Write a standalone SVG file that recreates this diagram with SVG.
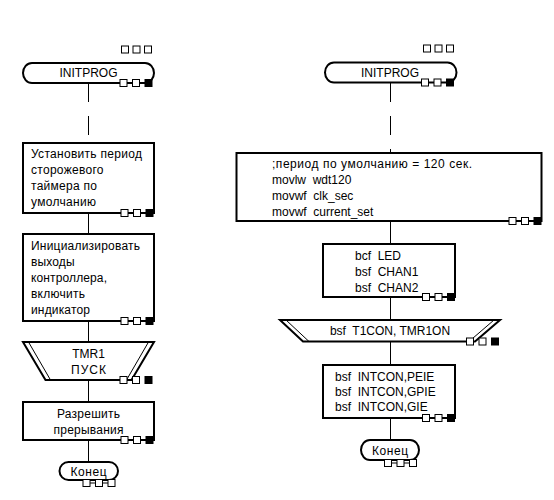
<svg xmlns="http://www.w3.org/2000/svg" xmlns:xlink="http://www.w3.org/1999/xlink" width="554" height="500" viewBox="0 0 554 500">
<style>
.bx{fill:#fff;stroke:#000;stroke-width:2}
.tr{fill:#fff;stroke:#000;stroke-width:2;stroke-linejoin:miter}
.ln{stroke:#000;stroke-width:1;fill:none}
.dl{stroke:#000;stroke-width:1;fill:none;stroke-dasharray:19 14}
.o{fill:#fff;stroke:#000;stroke-width:1}
.f{fill:#000;stroke:#000;stroke-width:1}
text{font-family:"Liberation Sans",Arial,sans-serif;font-size:12px;fill:#000;white-space:pre}
.c{text-anchor:middle}
</style>
<defs>
<g id="sqEnd">
<rect class="o" x="-32" y="-3.5" width="7" height="7"/>
<rect class="o" x="-19.5" y="-3.5" width="7" height="7"/>
<rect class="f" x="-7" y="-3.5" width="7" height="7"/>
</g>
<g id="sqTop">
<rect class="o" x="-30" y="0" width="7" height="7"/>
<rect class="o" x="-18.5" y="0" width="7" height="7"/>
<rect class="o" x="-7" y="0" width="7" height="7"/>
</g>
<g id="sqStop">
<line class="ln" x1="-25" y1="3.5" x2="-19.5" y2="3.5"/>
<line class="ln" x1="-12.5" y1="3.5" x2="-7" y2="3.5"/>
<rect class="o" x="-32" y="0" width="7" height="7"/>
<rect class="o" x="-19.5" y="0" width="7" height="7"/>
<rect class="o" x="-7" y="0" width="7" height="7"/>
</g>
</defs>
<rect width="554" height="500" fill="#fff"/>

<g id="connectors">
<line class="dl" x1="88.5" y1="83" x2="88.5" y2="143"/>
<line class="ln" x1="88.5" y1="213" x2="88.5" y2="234"/>
<line class="ln" x1="88.5" y1="321" x2="88.5" y2="342"/>
<line class="ln" x1="88.5" y1="380" x2="88.5" y2="402"/>
<line class="ln" x1="88.5" y1="440" x2="88.5" y2="462"/>
<line class="dl" x1="390.5" y1="83" x2="390.5" y2="153"/>
<line class="ln" x1="390.5" y1="221" x2="390.5" y2="244"/>
<line class="ln" x1="390.5" y1="297" x2="390.5" y2="320"/>
<line class="ln" x1="390.5" y1="341.5" x2="390.5" y2="365"/>
<line class="ln" x1="390.5" y1="418" x2="390.5" y2="440"/>
</g>

<g id="left-start">
<use href="#sqTop" xlink:href="#sqTop" x="151.5" y="46"/>
<rect class="bx" x="23" y="63" width="131" height="20" rx="9" ry="10"/>
<text class="c" x="88.5" y="77">INITPROG</text>
<use href="#sqEnd" xlink:href="#sqEnd" x="152" y="83"/>
</g>

<g id="left-wdt">
<rect class="bx" x="23" y="143" width="131" height="70"/>
<text x="31" y="158" textLength="111">Установить период</text>
<text x="31" y="174" textLength="72.5">сторожевого</text>
<text x="31" y="190" textLength="66">таймера по</text>
<text x="31" y="206" textLength="65">умолчанию</text>
<use href="#sqEnd" xlink:href="#sqEnd" x="153" y="213"/>
</g>

<g id="left-init">
<rect class="bx" x="23" y="234" width="131" height="87"/>
<text x="31" y="250" textLength="109">Инициализировать</text>
<text x="31" y="266" textLength="43.5">выходы</text>
<text x="31" y="282" textLength="76">контроллера,</text>
<text x="31" y="298" textLength="54">включить</text>
<text x="31" y="314" textLength="59">индикатор</text>
<use href="#sqEnd" xlink:href="#sqEnd" x="153" y="321"/>
</g>

<g id="left-tmr1">
<polygon class="tr" points="23,342 154,342 131.5,380 45.5,380"/>
<line class="ln" x1="28.5" y1="342" x2="50.5" y2="380"/>
<line class="ln" x1="148.5" y1="342" x2="126.5" y2="380"/>
<text class="c" x="88.5" y="357.5">TMR1</text>
<text class="c" x="88.5" y="373.5" textLength="35">ПУСК</text>
<use href="#sqEnd" xlink:href="#sqEnd" x="152" y="380"/>
</g>

<g id="left-int">
<rect class="bx" x="23" y="402" width="131" height="38"/>
<text class="c" x="88.5" y="418" textLength="63">Разрешить</text>
<text class="c" x="88.5" y="434" textLength="70">прерывания</text>
<use href="#sqEnd" xlink:href="#sqEnd" x="153" y="440"/>
</g>

<g id="left-end">
<rect class="bx" x="59.5" y="462" width="58.5" height="18" rx="9" ry="9"/>
<text class="c" x="88.5" y="476" textLength="36">Конец</text>
<use href="#sqStop" xlink:href="#sqStop" x="115" y="479.5"/>
</g>

<g id="right-start">
<use href="#sqTop" xlink:href="#sqTop" x="453.5" y="45"/>
<rect class="bx" x="325" y="62.5" width="131.5" height="20" rx="9" ry="10"/>
<text class="c" x="390" y="76.5">INITPROG</text>
<use href="#sqEnd" xlink:href="#sqEnd" x="453.5" y="82.5"/>
</g>

<g id="right-wdt">
<rect class="bx" x="236.5" y="153" width="305" height="68"/>
<text x="272" y="168" textLength="200">;период по умолчанию = 120 сек.</text>
<text x="272" y="184">movlw  wdt120</text>
<text x="272" y="200">movwf  clk_sec</text>
<text x="272" y="216">movwf  current_set</text>
<use href="#sqEnd" xlink:href="#sqEnd" x="541" y="221"/>
</g>

<g id="right-io">
<rect class="bx" x="323" y="244" width="132" height="53"/>
<text x="355" y="260">bcf  LED</text>
<text x="355" y="276">bsf  CHAN1</text>
<text x="355" y="292">bsf  CHAN2</text>
<use href="#sqEnd" xlink:href="#sqEnd" x="454.5" y="297"/>
</g>

<g id="right-tmr1">
<polygon class="tr" points="280,320 500,320 475,341.5 303,341.5"/>
<line class="ln" x1="286" y1="320" x2="309" y2="341.5"/>
<line class="ln" x1="494" y1="320" x2="469" y2="341.5"/>
<text class="c" x="390" y="335">bsf  T1CON, TMR1ON</text>
<use href="#sqEnd" xlink:href="#sqEnd" x="498.5" y="341.5"/>
</g>

<g id="right-int">
<rect class="bx" x="323" y="365" width="132" height="53"/>
<text x="335" y="381">bsf  INTCON,PEIE</text>
<text x="335" y="396">bsf  INTCON,GPIE</text>
<text x="335" y="411">bsf  INTCON,GIE</text>
<use href="#sqEnd" xlink:href="#sqEnd" x="454.5" y="418"/>
</g>

<g id="right-end">
<rect class="bx" x="361" y="440" width="58" height="20" rx="9" ry="10"/>
<text class="c" x="390" y="455" textLength="36">Конец</text>
<use href="#sqStop" xlink:href="#sqStop" x="416.5" y="459.5"/>
</g>
</svg>
